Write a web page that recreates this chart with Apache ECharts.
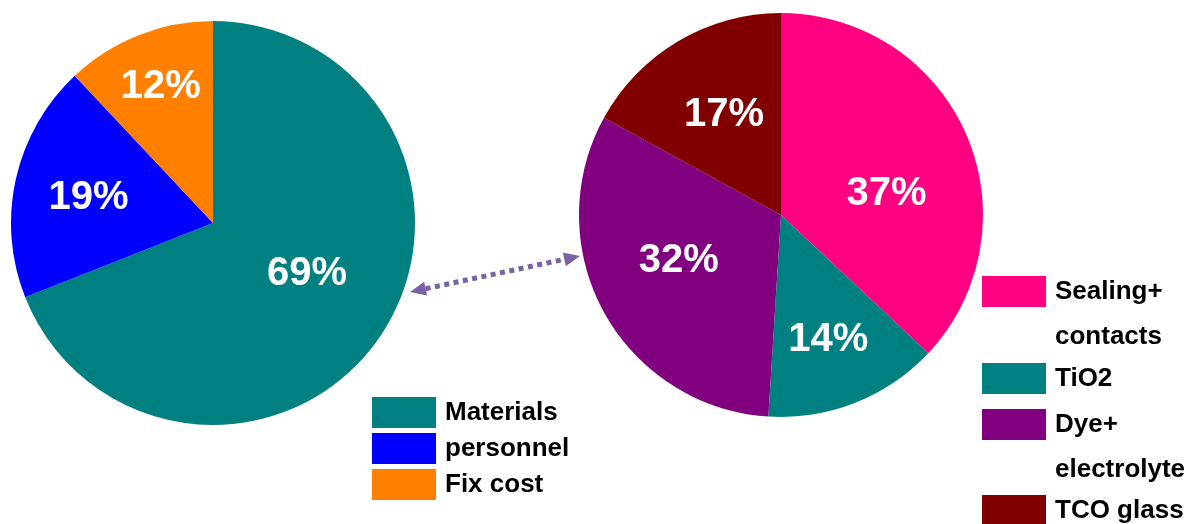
<!DOCTYPE html>
<html>
<head>
<meta charset="utf-8">
<script src="https://cdn.jsdelivr.net/npm/echarts@6/dist/echarts.min.js"></script>
<style>
  html, body { margin: 0; padding: 0; background: #fff; }
  #chart { width: 1198px; height: 524px; }
</style>
</head>
<body>
<div id="chart"></div>
<script>
// cost split (left) and materials split (right), in percent
const costNames = ['Materials', 'personnel', 'Fix cost'];
const costValues = [69, 19, 12];
const costColors = ['#008080', '#0000ff', '#ff8000'];

const matNames = ['Sealing+\ncontacts', 'TiO2', 'Dye+\nelectrolyte', 'TCO glass'];
const matValues = [37, 14, 32, 17];
const matColors = ['#ff0080', '#008080', '#800080', '#800000'];

// small nudges of the percent labels away from the default "inside" spot
const costNudge = [[8, -7], [-23, -2], [-14, -39]];
const matNudge = [[10, 20], [9, 28], [-11, -4], [-4, -11]];

const FONT = '"Liberation Sans", Arial, sans-serif';

function pieData(names, values, colors) {
  return names.map((n, i) => ({ name: n, value: values[i], itemStyle: { color: colors[i] } }));
}

function pieSeries(names, values, colors, center, nudge) {
  return {
    type: 'pie',
    center: center,
    radius: 202,
    startAngle: 90,
    clockwise: true,
    silent: true,
    itemStyle: { borderWidth: 0 },
    emphasis: { disabled: true },
    label: {
      position: 'inside',
      formatter: '{c}%',
      color: '#fff',
      fontFamily: FONT,
      fontWeight: 'bold',
      fontSize: 40
    },
    labelLine: { show: false },
    labelLayout: function (p) {
      const d = nudge[p.dataIndex];
      return { dx: d[0], dy: d[1] };
    },
    data: pieData(names, values, colors)
  };
}

const legendText = {
  color: '#000',
  fontFamily: FONT,
  fontWeight: 'bold',
  fontSize: 26,
  padding: [0, 0, 0, 4]
};

function oneLegend(name, left, top, twoLine) {
  return {
    orient: 'vertical',
    left: left,
    top: top,
    padding: 0,
    icon: 'rect',
    itemWidth: 64,
    itemHeight: 31,
    selectedMode: false,
    data: [name],
    formatter: twoLine ? function (n) { return '\n' + n; } : '{name}',
    textStyle: Object.assign({}, legendText, { lineHeight: twoLine ? 45 : 31 })
  };
}

// dotted double arrow between the two pies
const tipA = [410, 292], tipB = [580, 256];
function arrowGraphic(a, b, col) {
  const dx = b[0] - a[0], dy = b[1] - a[1];
  const len = Math.sqrt(dx * dx + dy * dy);
  const ux = dx / len, uy = dy / len, nx = -uy, ny = ux;
  const hl = 16, hw = 7;
  const a2 = [a[0] + ux * hl, a[1] + uy * hl];
  const b2 = [b[0] - ux * hl, b[1] - uy * hl];
  return [
    { type: 'line', shape: { x1: a2[0], y1: a2[1], x2: b2[0], y2: b2[1] },
      style: { stroke: col, lineWidth: 5, lineDash: [5, 4.5] } },
    { type: 'polygon', shape: { points: [a, [a2[0] + nx * hw, a2[1] + ny * hw], [a2[0] - nx * hw, a2[1] - ny * hw]] },
      style: { fill: col } },
    { type: 'polygon', shape: { points: [b, [b2[0] + nx * hw, b2[1] + ny * hw], [b2[0] - nx * hw, b2[1] - ny * hw]] },
      style: { fill: col } }
  ];
}

let chart = echarts.init(document.getElementById('chart'));
chart.setOption({
  animation: false,
  backgroundColor: '#fff',
  legend: [
    {
      orient: 'vertical',
      left: 372,
      top: 397,
      padding: 0,
      icon: 'rect',
      itemWidth: 64,
      itemHeight: 31,
      itemGap: 5,
      selectedMode: false,
      data: costNames,
      textStyle: Object.assign({}, legendText, { lineHeight: 31 })
    },
    oneLegend(matNames[0], 982, 224, true),
    oneLegend(matNames[1], 982, 363, false),
    oneLegend(matNames[2], 982, 357, true),
    oneLegend(matNames[3], 982, 495, false)
  ],
  graphic: arrowGraphic(tipA, tipB, '#7b62a6'),
  series: [
    pieSeries(costNames, costValues, costColors, [213, 223], costNudge),
    pieSeries(matNames, matValues, matColors, [781, 215], matNudge)
  ]
});
</script>
</body>
</html>
